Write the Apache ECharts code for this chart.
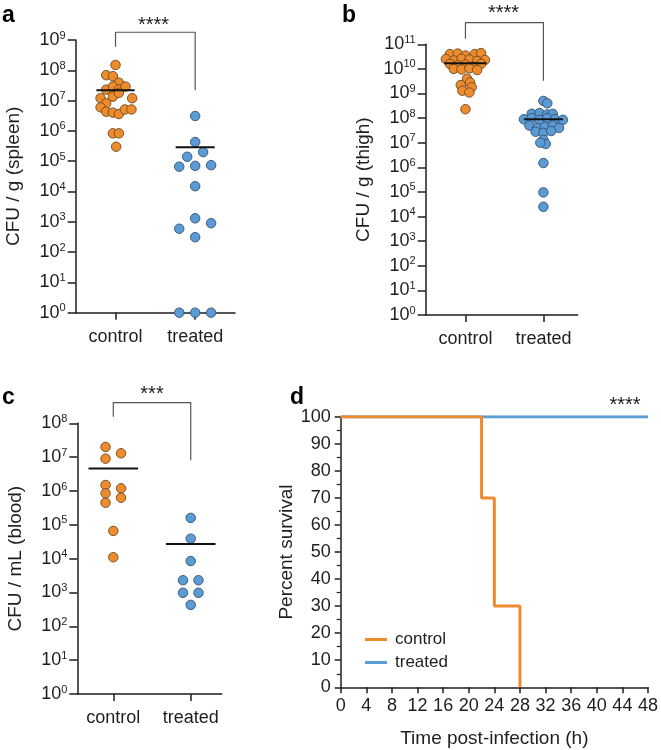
<!DOCTYPE html>
<html>
<head>
<meta charset="utf-8">
<script src="https://cdn.jsdelivr.net/npm/echarts@6/dist/echarts.min.js"></script>
<style>
html,body{margin:0;padding:0;background:#fff;}
#chart{width:661px;height:750px;}
</style>
</head>
<body>
<div id="chart"></div>
<script>
// ---------- DATA ----------
const categories = ['control', 'treated'];

// panel a: CFU / g (spleen)
const spleenControl = [1.5e8, 6.9e7, 6.4e7, 3.9e7, 2.3e7, 2.9e7, 2.3e7, 2.9e7, 1.2e7, 1.2e7, 1.35e7, 8.1e6, 1.8e7, 6e6, 4.3e6, 4e6, 3.6e6, 5.1e6, 5.1e6, 8.3e5, 8.3e5, 3e5];
const spleenControlJitter = [0, -0.117, -0.033, 0.042, -0.117, -0.033, 0.042, 0.125, 0.209, -0.188, -0.033, -0.117, 0.042, -0.188, -0.117, -0.033, 0.042, 0.117, 0.2, -0.033, 0.042, 0.008];
const spleenTreated = [3.1e6, 4.3e5, 1.4e5, 2e5, 6.6e4, 7e4, 7.4e4, 1.5e4, 1.3e3, 900, 590, 310, 1, 1, 1];
const spleenTreatedJitter = [0, 0, -0.1, 0.1, -0.2, 0, 0.2, 0, 0, 0.2, -0.2, 0, -0.2, 0, 0.2];
const spleenMeans = [2.2e7, 2.9e5];

// panel b: CFU / g (thigh)
const thighControl = [4e10, 4.2e10, 3.5e10, 4e10, 4.4e10, 2.5e10, 2.2e10, 2.6e10, 2.4e10, 2.1e10, 2.3e10, 1.6e10, 1.4e10, 1.5e10, 1.25e10, 1.6e10, 1e10, 9.5e9, 1.05e10, 9e9, 4e9, 2.8e9, 2.2e9, 1.8e9, 1.3e9, 1.1e9, 2.3e8];
const thighControlJitter = [-0.2, -0.1, 0, 0.12, 0.2, -0.25, -0.15, -0.05, 0.05, 0.15, 0.25, -0.2, -0.1, 0, 0.1, 0.2, -0.15, -0.05, 0.05, 0.15, 0.02, 0.06, -0.06, 0.08, -0.04, 0.05, 0];
const thighTreated = [5e8, 4e8, 1.5e8, 1.6e8, 1.4e8, 1.5e8, 9e7, 1e8, 8.5e7, 1e8, 9e7, 8.5e7, 5e7, 4e7, 4.5e7, 5e7, 4e7, 2.8e7, 2.5e7, 3e7, 1.3e7, 9e6, 1e7, 1.5e6, 9.6e4, 2.5e4];
const thighTreatedJitter = [0, 0.05, -0.15, -0.05, 0.05, 0.12, -0.25, -0.15, -0.05, 0.05, 0.15, 0.25, -0.18, -0.08, 0.02, 0.12, 0.2, -0.1, 0, 0.1, 0, 0.03, -0.04, 0, 0, 0];
const thighMeans = [1.7e10, 9e7];

// panel c: CFU / mL (blood)
const bloodControl = [2.0e7, 1.3e7, 9e6, 1.5e6, 1.2e6, 8.5e5, 6.3e5, 4.5e5, 6.6e4, 1.1e4];
const bloodControlJitter = [-0.1, 0.1, -0.1, -0.1, 0.1, -0.1, 0.1, -0.1, 0, 0];
const bloodTreated = [1.6e5, 3.9e4, 8.5e3, 2.3e3, 2.3e3, 980, 980, 430];
const bloodTreatedJitter = [0, 0, 0, -0.1, 0.1, -0.1, 0.1, 0];
const bloodMeans = [4.6e6, 2.7e4];

// significance brackets: [control end, top, treated end]
const spleenBracket = [6e8, 1.8e9, 2.2e7];
const thighBracket = [1.7e11, 7.6e11, 3.3e9];
const bloodBracket = [1.57e8, 4.1e8, 8.1e6];

// panel d: survival
const survivalTimeControl = [0, 22, 24, 28];
const survivalControl = [100, 70, 30, 0];
const survivalTimeTreated = [0, 48];
const survivalTreated = [100, 100];
const survivalXTicks = [0, 48, 4];
const survivalYTicks = [0, 100, 10];

// ---------- STYLE ----------
const FONT = "'Liberation Sans', Arial, Helvetica, sans-serif";
const INK = '#1e1e1e';
const ORANGE = '#EE8B2D';
const BLUE = '#5B9BD5';

const chart = echarts.init(document.getElementById('chart'), null, {renderer: 'canvas'});

const grids = [
  {left: 75.7, top: 40, width: 159.3, height: 272.7},
  {left: 425.7, top: 44.3, width: 152, height: 270.7},
  {left: 77.3, top: 423.3, width: 144.4, height: 270.7},
  {left: 340.7, top: 416.7, width: 307.6, height: 270.6}
];

function catXAxis(gi, min, max) {
  return {
    type: 'value', gridIndex: gi, min: min, max: max,
    axisLine: {show: true, onZero: false, lineStyle: {color: INK, width: 1.5}},
    axisTick: {show: true, customValues: [1, 2], length: 7, lineStyle: {color: INK, width: 1.5}},
    axisLabel: {customValues: [1, 2], formatter: v => categories[Math.round(v) - 1],
      fontSize: 18, fontFamily: FONT, color: INK, margin: 15},
    splitLine: {show: false}
  };
}
function logYAxis(gi, max, name, gap) {
  return {
    type: 'log', logBase: 10, gridIndex: gi, min: 1, max: max, interval: 1,
    name: name, nameLocation: 'middle', nameGap: gap,
    nameTextStyle: {fontSize: 19, fontFamily: FONT, color: INK},
    axisLine: {show: true, onZero: false, lineStyle: {color: INK, width: 1.5}},
    axisTick: {show: true, length: 8, lineStyle: {color: INK, width: 1.5}},
    minorTick: {show: false},
    axisLabel: {
      margin: 10,
      formatter: v => '{b|10}{s|' + Math.round(Math.log10(v)) + '}',
      rich: {
        b: {fontSize: 18, fontFamily: FONT, color: INK},
        s: {fontSize: 11, fontFamily: FONT, color: INK, padding: [0, 0, 9, 0]}
      }
    },
    splitLine: {show: false}
  };
}

function dots(gi, center, vals, jit, color, border) {
  return {
    type: 'scatter', xAxisIndex: gi, yAxisIndex: gi, symbolSize: 9.5,
    itemStyle: {color: color, borderColor: border, borderWidth: 0.9, opacity: 1},
    data: vals.map((v, i) => [center + jit[i], v]), z: 3, silent: true
  };
}
function meanLine(gi, center, m, hw) {
  return {
    type: 'line', xAxisIndex: gi, yAxisIndex: gi, symbol: 'none', silent: true,
    lineStyle: {color: '#111', width: 2}, data: [[center - hw, m], [center + hw, m]], z: 5
  };
}
function bracket(gi, b) {
  return {
    type: 'line', xAxisIndex: gi, yAxisIndex: gi, symbol: 'none', clip: false, silent: true,
    lineStyle: {color: '#555', width: 1.2},
    data: [[1, b[0]], [1, b[1]], [2, b[1]], [2, b[2]]], z: 2
  };
}

const series = [
  // a
  dots(0, 1, spleenControl, spleenControlJitter, ORANGE, '#6b4a22'),
  dots(0, 2, spleenTreated, spleenTreatedJitter, BLUE, '#34516e'),
  meanLine(0, 1, spleenMeans[0], 0.24),
  meanLine(0, 2, spleenMeans[1], 0.245),
  bracket(0, spleenBracket),
  // b
  dots(1, 1, thighControl, thighControlJitter, ORANGE, '#6b4a22'),
  dots(1, 2, thighTreated, thighTreatedJitter, BLUE, '#34516e'),
  meanLine(1, 1, thighMeans[0], 0.27),
  meanLine(1, 2, thighMeans[1], 0.25),
  bracket(1, thighBracket),
  // c
  dots(2, 1, bloodControl, bloodControlJitter, ORANGE, '#6b4a22'),
  dots(2, 2, bloodTreated, bloodTreatedJitter, BLUE, '#34516e'),
  meanLine(2, 1, bloodMeans[0], 0.32),
  meanLine(2, 2, bloodMeans[1], 0.32),
  bracket(2, bloodBracket),
  // d
  {
    name: 'treated', type: 'line', xAxisIndex: 3, yAxisIndex: 3, symbol: 'none', step: 'end',
    lineStyle: {color: BLUE, width: 3}, itemStyle: {color: BLUE},
    data: survivalTimeTreated.map((t, i) => [t, survivalTreated[i]]), z: 3
  },
  {
    name: 'control', type: 'line', xAxisIndex: 3, yAxisIndex: 3, symbol: 'none', step: 'end',
    lineStyle: {color: ORANGE, width: 3}, itemStyle: {color: ORANGE},
    data: survivalTimeControl.map((t, i) => [t, survivalControl[i]]), z: 4
  }
];

const option = {
  animation: false,
  backgroundColor: '#fff',
  textStyle: {fontFamily: FONT},
  grid: grids.map(g => Object.assign({containLabel: false}, g)),
  xAxis: [
    catXAxis(0, 0.5, 2.5),
    catXAxis(1, 0.49, 2.44),
    catXAxis(2, 0.535, 2.4),
    {
      type: 'value', gridIndex: 3, min: survivalXTicks[0], max: survivalXTicks[1], interval: survivalXTicks[2],
      name: 'Time post-infection (h)', nameLocation: 'middle', nameGap: 42,
      nameTextStyle: {fontSize: 19, fontFamily: FONT, color: INK},
      axisLine: {show: true, onZero: false, lineStyle: {color: INK, width: 1.5}},
      axisTick: {show: true, length: 6, lineStyle: {color: INK, width: 1.5}},
      axisLabel: {fontSize: 18, fontFamily: FONT, color: INK, margin: 10, showMinLabel: true, showMaxLabel: true, hideOverlap: false},
      splitLine: {show: false}
    }
  ],
  yAxis: [
    logYAxis(0, 1e9, 'CFU / g (spleen)', 52),
    logYAxis(1, 1e11, 'CFU / g (thigh)', 52),
    logYAxis(2, 1e8, 'CFU / mL (blood)', 52),
    {
      type: 'value', gridIndex: 3, min: survivalYTicks[0], max: survivalYTicks[1], interval: survivalYTicks[2],
      name: 'Percent survival', nameLocation: 'middle', nameGap: 44,
      nameTextStyle: {fontSize: 19, fontFamily: FONT, color: INK},
      axisLine: {show: true, onZero: false, lineStyle: {color: INK, width: 1.5}},
      axisTick: {show: true, length: 6, lineStyle: {color: INK, width: 1.5}},
      minorTick: {show: true, splitNumber: 2, length: 4, lineStyle: {color: INK, width: 1.2}},
      axisLabel: {fontSize: 18, fontFamily: FONT, color: INK, margin: 10},
      splitLine: {show: false}
    }
  ],
  legend: {
    data: ['control', 'treated'], orient: 'vertical', left: 360, top: 626,
    icon: 'rect', itemWidth: 22, itemHeight: 3, itemGap: 6,
    textStyle: {fontSize: 17, fontFamily: FONT, color: INK, padding: [0, 0, 0, 3]},
    selectedMode: false
  },
  series: series,
  graphic: [
    {type: 'text', left: 2, top: 4, style: {text: 'a', font: 'bold 23px ' + FONT, fill: '#000'}},
    {type: 'text', left: 342, top: 4, style: {text: 'b', font: 'bold 23px ' + FONT, fill: '#000'}},
    {type: 'text', left: 2, top: 386, style: {text: 'c', font: 'bold 23px ' + FONT, fill: '#000'}},
    {type: 'text', left: 290, top: 386, style: {text: 'd', font: 'bold 23px ' + FONT, fill: '#000'}},
    {type: 'text', x: 153.5, y: 25, style: {text: '****', font: '20px ' + FONT, fill: INK, align: 'center', verticalAlign: 'middle'}},
    {type: 'text', x: 503.5, y: 13, style: {text: '****', font: '20px ' + FONT, fill: INK, align: 'center', verticalAlign: 'middle'}},
    {type: 'text', x: 152, y: 394, style: {text: '***', font: '20px ' + FONT, fill: INK, align: 'center', verticalAlign: 'middle'}},
    {type: 'text', x: 625, y: 405, style: {text: '****', font: '20px ' + FONT, fill: INK, align: 'center', verticalAlign: 'middle'}}
  ]
};
chart.setOption(option);
</script>
</body>
</html>
